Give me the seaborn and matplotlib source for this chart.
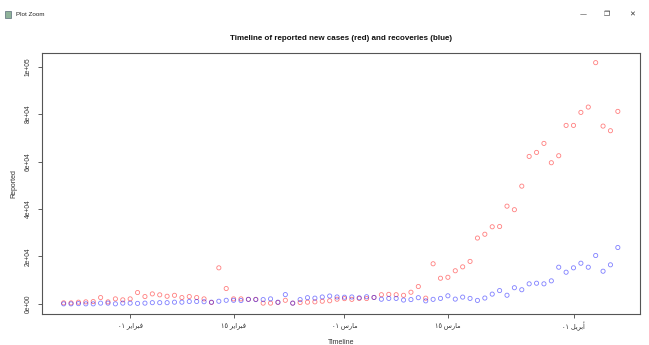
import matplotlib
matplotlib.use("Agg")
import matplotlib.pyplot as plt
from matplotlib.patches import Rectangle
import pandas as pd
import seaborn as sns

# Daily counts, one value per day starting at 2020-01-23
start_date = "2020-01-23"
new_cases = [
    420, 400, 700, 840, 970, 2660, 840, 2100, 1690,
    2100, 4770, 3080, 4200, 3800, 3200, 3600, 2660, 3080, 2660,
    2100, 600, 15190, 6460, 2100, 2100, 1900, 1900, 300, 300,
    600, 1500, 300, 550, 700, 840, 1100, 1300, 1950,
    2200, 1900, 2300, 2240, 2700, 3850, 4000, 3850, 3600, 4900,
    7300, 2400, 16900, 10800, 11200, 13950, 15600, 17900, 27750, 29350,
    32500, 32600, 41190, 39700, 49630, 62160, 63850, 67650, 59500, 62450,
    75240,
    75240, 80730, 82970, 101700, 74950, 73000, 81150,
]
recoveries = [
    0, 0, 100, 0, 0, 300, 300, 0, 300,
    300, 200, 300, 500, 500, 500, 700, 700, 1000, 1000,
    900, 700, 1100, 1500, 1500, 1400, 1900, 1800, 1800, 2100,
    700, 3900, 300, 1800, 2600, 2400, 2900, 3300, 2900,
    2800, 2900, 2550, 3000, 2700, 1950, 2300, 2300, 1600, 1800,
    2600, 1260, 1900, 2300, 3400, 2000, 2850, 2300, 1450, 2450,
    4100, 5600, 3630, 6800, 5950, 8440, 8700, 8440, 9700, 15450,
    13340,
    15190, 17130, 15450, 20380, 13760, 16460, 23760,
]
x_tick_dates = ["2020-02-01", "2020-02-15", "2020-03-01", "2020-03-15", "2020-04-01"]
x_tick_labels = ["فبراير ٠١", "فبراير ١٥", "مارس ٠١", "مارس ١٥", "أبريل ٠١"]
y_ticks = [0, 20000, 40000, 60000, 80000, 100000]

# Contextual glyph forms (isolated, final, initial, medial) for the letters used
FORMS = {
    "ف": ("\uFED1", "\uFED2", "\uFED3", "\uFED4"),
    "ب": ("\uFE8F", "\uFE90", "\uFE91", "\uFE92"),
    "ي": ("\uFEF1", "\uFEF2", "\uFEF3", "\uFEF4"),
    "م": ("\uFEE1", "\uFEE2", "\uFEE3", "\uFEE4"),
    "س": ("\uFEB1", "\uFEB2", "\uFEB3", "\uFEB4"),
    "ل": ("\uFEDD", "\uFEDE", "\uFEDF", "\uFEE0"),
    "ر": ("\uFEAD", "\uFEAE"),
    "ا": ("\uFE8D", "\uFE8E"),
    "أ": ("\uFE83", "\uFE84"),
}


def shape_word(word):
    out = []
    for i, ch in enumerate(word):
        if ch not in FORMS:
            out.append(ch)
            continue
        prev_ch = word[i - 1] if i > 0 else None
        next_ch = word[i + 1] if i + 1 < len(word) else None
        joins_prev = prev_ch in FORMS and len(FORMS[prev_ch]) == 4
        joins_next = len(FORMS[ch]) == 4 and next_ch in FORMS
        if joins_prev and joins_next:
            idx = 3
        elif joins_prev:
            idx = 1
        elif joins_next:
            idx = 2
        else:
            idx = 0
        out.append(FORMS[ch][idx])
    return "".join(reversed(out))


def visual_rtl(text):
    tokens = text.split(" ")
    shaped = [shape_word(t) if any(c in FORMS for c in t) else t for t in tokens]
    return " ".join(reversed(shaped))


dates = pd.date_range(start_date, periods=len(new_cases), freq="D")
df = pd.DataFrame({"date": dates, "new_cases": new_cases, "recoveries": recoveries})

sns.set_theme(style="white")
plt.rcParams["font.family"] = ["Liberation Sans", "DejaVu Sans"]

W, H = 649, 345
fig = plt.figure(figsize=(W / 100, H / 100), dpi=100)
fig.patch.set_facecolor("white")

left, right, top, bottom = 41.5, 640, 53, 313.5
ax = fig.add_axes([left / W, 1 - bottom / H, (right - left) / W, (bottom - top) / H])
ax.set_facecolor("white")

sns.scatterplot(data=df, x="date", y="new_cases", ax=ax, marker="o", s=9,
                facecolor="none", edgecolor=(1, 0, 0, 0.5), linewidth=0.6)
sns.scatterplot(data=df, x="date", y="recoveries", ax=ax, marker="o", s=9,
                facecolor="none", edgecolor=(0, 0, 1, 0.5), linewidth=0.6)

# Axis ranges padded by 4% of the data span on each side
span_days = (dates[-1] - dates[0]).days
pad_days = pd.Timedelta(days=0.04 * span_days)
ax.set_xlim(dates[0] - pad_days, dates[-1] + pad_days)
ymax = max(max(new_cases), max(recoveries))
ymin = min(min(new_cases), min(recoveries))
ypad = 0.04 * (ymax - ymin)
ax.set_ylim(ymin - ypad, ymax + ypad)

ax.set_xticks(pd.to_datetime(x_tick_dates))
ax.set_xticklabels([visual_rtl(t) for t in x_tick_labels])
ax.set_yticks(y_ticks)
ax.set_yticklabels([f"{v:.0e}" for v in y_ticks], rotation=90, va="center")

ax.tick_params(axis="both", direction="out", length=3, width=0.6, color="#444",
               labelsize=4.8, labelcolor="#333", pad=3)
ax.tick_params(axis="y", pad=4)
ax.tick_params(axis="both", which="both", bottom=True, left=True)
for sp in ax.spines.values():
    sp.set_visible(True)
    sp.set_color("#555")
    sp.set_linewidth(0.8)

ax.set_xlabel("Timeline", fontsize=5, color="#333")
ax.set_ylabel("Reported", fontsize=5, color="#333")
ax.xaxis.set_label_coords(0.5, (bottom - 342.5) / (bottom - top))
ax.yaxis.set_label_coords((14 - left) / (right - left), 0.5)
ax.xaxis.label.set_va("center")
ax.yaxis.label.set_va("center")

fig.text((left + right) / 2 / W, 1 - 38 / H,
         "Timeline of reported new cases (red) and recoveries (blue)",
         ha="center", va="center", fontsize=5.8, fontweight="bold", color="#111")

# Window title bar
fig.add_artist(Rectangle((5 / W, 1 - 17.5 / H), 6 / W, 6 / H, transform=fig.transFigure,
                         facecolor="#8fb39a", edgecolor="#5a6b7a", linewidth=0.5))
fig.text(16 / W, 1 - 14 / H, "Plot Zoom", ha="left", va="center", fontsize=4.5, color="#222")
fig.text(583 / W, 1 - 14 / H, "\u2014", ha="center", va="center", fontsize=5, color="#333",
         family="DejaVu Sans")
fig.text(607 / W, 1 - 14 / H, "\u2750", ha="center", va="center", fontsize=5, color="#333",
         family="DejaVu Sans")
fig.text(632 / W, 1 - 14 / H, "\u2715", ha="center", va="center", fontsize=5, color="#333",
         family="DejaVu Sans")

fig.savefig("out.png", dpi=100)
